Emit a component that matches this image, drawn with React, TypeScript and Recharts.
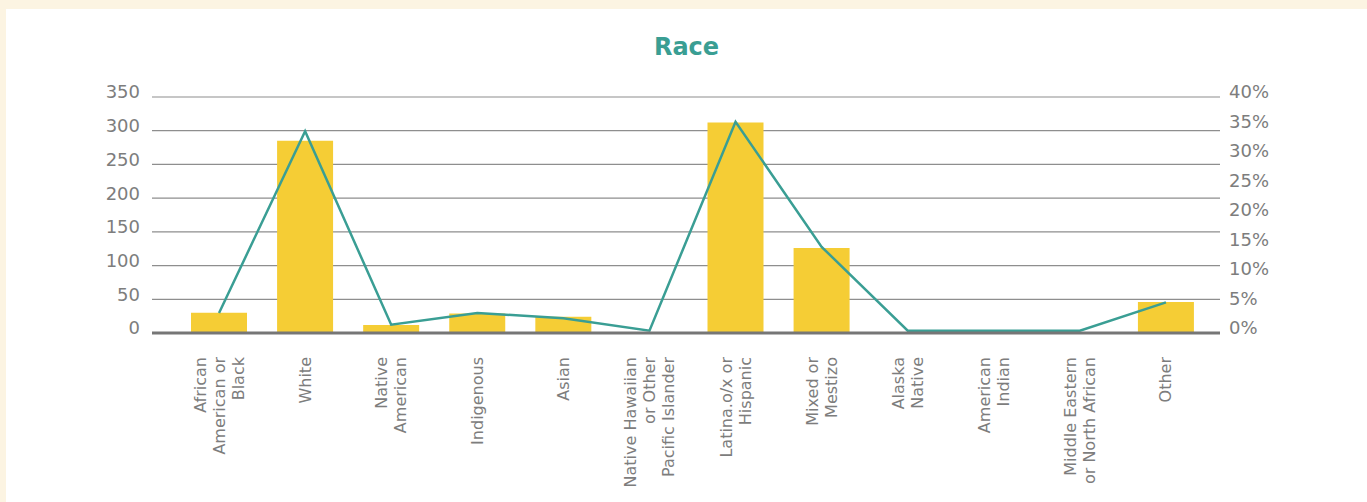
import React from 'react';
import { Bar, CartesianGrid, ComposedChart, Line, XAxis, YAxis } from 'recharts';

const categories = [
  'African\nAmerican or\nBlack',
  'White',
  'Native\nAmerican',
  'Indigenous',
  'Asian',
  'Native Hawaiian\nor Other\nPacific Islander',
  'Latina.o/x or\nHispanic',
  'Mixed or\nMestizo',
  'Alaska\nNative',
  'American\nIndian',
  'Middle Eastern\nor North African',
  'Other',
];
const counts = [30, 285, 12, 29, 24, 0, 312, 126, 0, 0, 0, 46];
const percents = [3.4, 34.2, 1.4, 3.4, 2.5, 0.4, 35.8, 14.6, 0.4, 0.4, 0.4, 5.2];
const countTicks = [0, 50, 100, 150, 200, 250, 300, 350];
const percentTicks = [0, 5, 10, 15, 20, 25, 30, 35, 40];

const data = categories.map((name, i) => ({ name, count: counts[i], pct: percents[i] }));

const FONT = '"DejaVu Sans", sans-serif';
const GREY = '#7d7d7d';

function CategoryTick({ x, y, payload }: any) {
  const lines = String(payload.value).split('\n');
  const lh = 19;
  return (
    <g transform={`translate(${x},${y + 24}) rotate(-90)`}>
      <text textAnchor="end" fill={GREY} fontSize={16} fontFamily={FONT}>
        {lines.map((l, i) => (
          <tspan key={i} x={0} y={(i - (lines.length - 1) / 2) * lh + 5.5}>
            {l}
          </tspan>
        ))}
      </text>
    </g>
  );
}

export default function App() {
  return (
    <div style={{ position: 'absolute', left: 0, top: 0, width: 1367, height: 502, background: '#fcf4e2', overflow: 'hidden' }}>
      <div style={{ position: 'absolute', left: 6, top: 9, width: 1361, height: 493, background: '#ffffff' }} />
      <div
        style={{
          position: 'absolute',
          left: 0,
          width: 1367,
          top: 33,
          textAlign: 'center',
          fontFamily: FONT,
          fontWeight: 700,
          fontSize: 24,
          color: '#3a9e93',
          paddingLeft: 3,
        }}
      >
        Race
      </div>
      <div style={{ position: 'absolute', left: 0, top: 0 }}>
        <ComposedChart width={1367} height={502} data={data} margin={{ top: 97, right: 87, bottom: 19, left: 92 }}>
          <CartesianGrid yAxisId="left" vertical={false} stroke="#8e8e8e" strokeWidth={1.2} />
          <XAxis
            dataKey="name"
            interval={0}
            height={150}
            padding={{ left: 24, right: 11 }}
            tickLine={false}
            tickSize={0}
            tickMargin={0}
            axisLine={{ stroke: '#767676', strokeWidth: 3 }}
            tick={<CategoryTick />}
          />
          <YAxis
            yAxisId="left"
            width={60}
            domain={[0, 350]}
            ticks={countTicks}
            interval={0}
            axisLine={false}
            tickLine={false}
            tickSize={0}
            tickMargin={12}
            tick={{ fill: GREY, fontSize: 18, fontFamily: FONT, dy: -5 }}
          />
          <YAxis
            yAxisId="right"
            orientation="right"
            width={60}
            domain={[0, 40]}
            ticks={percentTicks}
            interval={0}
            axisLine={false}
            tickLine={false}
            tickSize={0}
            tickMargin={9}
            tickFormatter={(v) => `${v}%`}
            tick={{ fill: GREY, fontSize: 18, fontFamily: FONT, dy: -5 }}
          />
          <Bar yAxisId="left" dataKey="count" fill="#f5cd35" barSize={56} isAnimationActive={false} />
          <Line
            yAxisId="right"
            type="linear"
            dataKey="pct"
            stroke="#3a9e94"
            strokeWidth={2.5}
            dot={false}
            activeDot={false}
            isAnimationActive={false}
          />
        </ComposedChart>
      </div>
    </div>
  );
}
